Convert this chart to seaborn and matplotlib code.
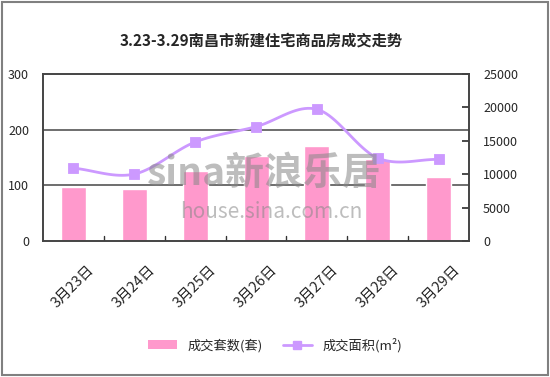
import numpy as np
import pandas as pd
import matplotlib
matplotlib.use('Agg')
import matplotlib.pyplot as plt
import seaborn as sns
from matplotlib.patches import Patch, Rectangle
from matplotlib.lines import Line2D

# Data
dates = ['3月23日', '3月24日', '3月25日', '3月26日', '3月27日', '3月28日', '3月29日']
units = [97, 93, 126, 153, 170, 148, 115]            # 成交套数(套)
area = [10900, 10000, 14800, 17100, 19700, 12400, 12200]  # 成交面积(㎡)
title = '3.23-3.29南昌市新建住宅商品房成交走势'

sns.set_theme(style='white')
plt.rcParams['font.family'] = ['Noto Sans CJK SC', 'DejaVu Sans']
plt.rcParams['axes.unicode_minus'] = False

bar_color = '#FF99CC'
line_color = '#CC99FF'

fig = plt.figure(figsize=(5.5, 3.77), dpi=100)
ax = fig.add_axes([0.078, 0.361, 0.775, 0.443])

df = pd.DataFrame({'date': dates, 'units': units, 'area': area})
sns.barplot(data=df, x='date', y='units', color=bar_color, width=0.41,
            saturation=1, ax=ax, zorder=2)
ax.set_ylim(0, 300)
ax.set_xlim(-0.5, len(dates) - 0.5)
ax.set_yticks([0, 100, 200, 300])
ax.set_yticklabels(['0', '100', '200', '300'], fontstyle='italic', fontsize=9)
for y in [100, 200]:
    ax.axhline(y, color='#555555', lw=1.2, zorder=1)
ax.set_xlabel('')
ax.set_ylabel('')
ax.tick_params(axis='y', length=0, pad=10)
ax.tick_params(axis='x', length=0, pad=16)
ax.set_xticks(range(len(dates)))
ax.set_xticklabels(dates, rotation=45, ha='center', fontsize=10.5)
# category boundary ticks on x axis
for b in np.arange(0.5, len(dates) - 0.5, 1):
    ax.plot([b, b], [0, 8], color='#333333', lw=1, zorder=3)
for s in ax.spines.values():
    s.set_color('#444444')
    s.set_linewidth(1.2)

# smoothed line (Catmull-Rom through the points)
ax2 = ax.twinx()
xs = np.arange(len(area), dtype=float)
ys = np.array(area, dtype=float)
px = np.concatenate([[2 * xs[0] - xs[1]], xs, [2 * xs[-1] - xs[-2]]])
py = np.concatenate([[2 * ys[0] - ys[1]], ys, [2 * ys[-1] - ys[-2]]])
sx, sy = [], []
for i in range(1, len(px) - 2):
    t = np.linspace(0, 1, 20, endpoint=False)
    for arr, out in ((px, sx), (py, sy)):
        p0, p1, p2, p3 = arr[i - 1], arr[i], arr[i + 1], arr[i + 2]
        out.extend(0.5 * ((2 * p1) + (-p0 + p2) * t + (2 * p0 - 5 * p1 + 4 * p2 - p3) * t ** 2
                          + (-p0 + 3 * p1 - 3 * p2 + p3) * t ** 3))
sx.append(xs[-1])
sy.append(ys[-1])
sns.lineplot(x=sx, y=sy, color=line_color, lw=2, ax=ax2, zorder=4)
sns.scatterplot(x=xs, y=ys, marker='s', s=55, color=line_color, edgecolor=line_color,
                ax=ax2, zorder=5)
ax2.set_ylim(0, 25000)
ax2.set_yticks(range(0, 25001, 5000))
ax2.set_yticklabels([str(v) for v in range(0, 25001, 5000)], fontstyle='italic', fontsize=9)
ax2.tick_params(axis='y', direction='in', length=5, color='#333333', pad=10)
for s in ax2.spines.values():
    s.set_color('#444444')
    s.set_linewidth(1.2)

# watermark
fig.text(0.48, 0.54, 'sina新浪乐居', fontsize=28, color='#888888', alpha=0.55,
         fontweight='bold', fontstyle='italic', ha='center', va='center', zorder=10)
fig.text(0.494, 0.438, 'house.sina.com.cn', fontsize=15, color='#888888', alpha=0.55,
         fontstyle='italic', ha='center', va='center', zorder=10)

fig.text(0.475, 0.893, title, fontsize=11, fontweight='bold', ha='center', va='center')

handles = [Patch(facecolor=bar_color, edgecolor='none'),
           Line2D([0], [0], color=line_color, lw=2, marker='s', markersize=6)]
fig.legend(handles, ['成交套数(套)', '成交面积(m²)'], loc='center', ncol=2,
           bbox_to_anchor=(0.5, 0.085), frameon=False, fontsize=9.5,
           handlelength=2.2, columnspacing=1.5)

fig.patches.append(Rectangle((0.003, 0.004), 0.994, 0.992, transform=fig.transFigure,
                             fill=False, edgecolor='#808080', lw=1.5))

fig.savefig('out.png', dpi=100)
